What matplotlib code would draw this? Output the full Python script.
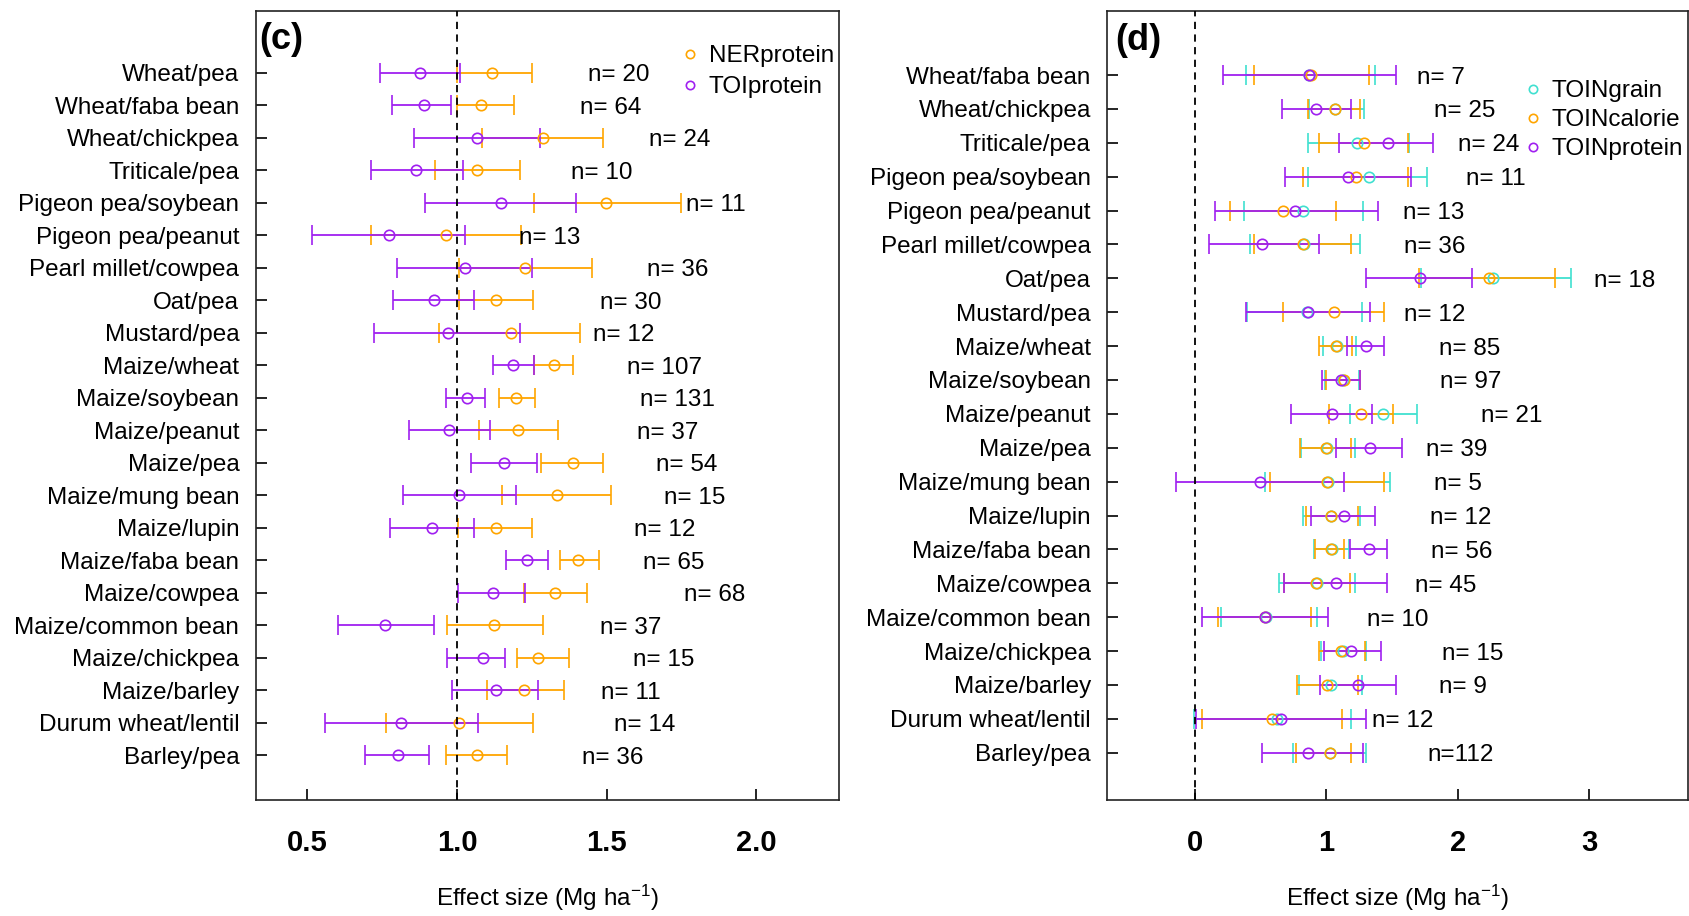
import matplotlib
matplotlib.use("Agg")
import matplotlib.pyplot as plt
from matplotlib.lines import Line2D
import numpy as np

plt.rcParams['font.family'] = ['Liberation Sans', 'DejaVu Sans']
plt.rcParams['mathtext.fontset'] = 'custom'
plt.rcParams['mathtext.rm'] = 'Liberation Sans'
plt.rcParams['mathtext.it'] = 'Liberation Sans:italic'
plt.rcParams['mathtext.bf'] = 'Liberation Sans:bold'

# ---------------- panel (c): protein-based indices ----------------
crops_c = ["Wheat/pea", "Wheat/faba bean", "Wheat/chickpea", "Triticale/pea",
           "Pigeon pea/soybean", "Pigeon pea/peanut", "Pearl millet/cowpea",
           "Oat/pea", "Mustard/pea", "Maize/wheat", "Maize/soybean",
           "Maize/peanut", "Maize/pea", "Maize/mung bean", "Maize/lupin",
           "Maize/faba bean", "Maize/cowpea", "Maize/common bean",
           "Maize/chickpea", "Maize/barley", "Durum wheat/lentil", "Barley/pea"]
n_c = [20, 64, 24, 10, 11, 13, 36, 30, 12, 107, 131, 37, 54, 15, 12, 65, 68,
       37, 15, 11, 14, 36]

ner_lo = [1.000, 1.000, 1.083, 0.928, 1.256, 0.714, 1.006, 1.008, 0.939, 1.259,
          1.141, 1.073, 1.282, 1.151, 1.004, 1.343, 1.225, 0.967, 1.202, 1.099,
          0.761, 0.963]
ner_mean = [1.118, 1.081, 1.288, 1.068, 1.499, 0.964, 1.228, 1.131, 1.179, 1.324,
            1.198, 1.205, 1.388, 1.333, 1.131, 1.405, 1.328, 1.125, 1.270, 1.223,
            1.006, 1.068]
ner_hi = [1.251, 1.192, 1.487, 1.209, 1.749, 1.214, 1.452, 1.255, 1.410, 1.387,
          1.260, 1.337, 1.489, 1.515, 1.251, 1.474, 1.433, 1.287, 1.374, 1.356,
          1.255, 1.166]

toi_lo = [0.741, 0.782, 0.855, 0.714, 0.892, 0.516, 0.799, 0.786, 0.723, 1.119,
          0.964, 0.839, 1.047, 0.819, 0.776, 1.165, 1.004, 0.601, 0.967, 0.983,
          0.557, 0.693]
toi_mean = [0.876, 0.891, 1.067, 0.863, 1.146, 0.772, 1.027, 0.923, 0.969, 1.187,
            1.032, 0.974, 1.156, 1.006, 0.917, 1.234, 1.119, 0.759, 1.088, 1.131,
            0.814, 0.803]
toi_hi = [1.010, 0.980, 1.278, 1.020, 1.397, 1.026, 1.250, 1.058, 1.211, 1.256,
          1.095, 1.110, 1.269, 1.198, 1.058, 1.303, 1.228, 0.923, 1.161, 1.271,
          1.069, 0.905]

# x position of the sample-size annotation in each row
nlab_x_c = [1.540, 1.515, 1.743, 1.484, 1.864, 1.310, 1.739, 1.581, 1.557, 1.693,
            1.738, 1.704, 1.768, 1.795, 1.693, 1.723, 1.862, 1.581, 1.691, 1.580,
            1.629, 1.522]
ticks_c = [0.5, 1.0, 1.5, 2.0]
tick_labels_c = ["0.5", "1.0", "1.5", "2.0"]

# ---------------- panel (d): TOIN indices ----------------
crops_d = ["Wheat/faba bean", "Wheat/chickpea", "Triticale/pea",
           "Pigeon pea/soybean", "Pigeon pea/peanut", "Pearl millet/cowpea",
           "Oat/pea", "Mustard/pea", "Maize/wheat", "Maize/soybean",
           "Maize/peanut", "Maize/pea", "Maize/mung bean", "Maize/lupin",
           "Maize/faba bean", "Maize/cowpea", "Maize/common bean",
           "Maize/chickpea", "Maize/barley", "Durum wheat/lentil", "Barley/pea"]
n_d = [7, 25, 24, 11, 13, 36, 18, 12, 85, 97, 21, 39, 5, 12, 56, 45, 10, 15, 9,
       12, 112]

grain_lo = [0.389, 0.867, 0.862, 0.859, 0.378, 0.424, 1.718, 0.401, 0.979, 0.988,
            1.180, 0.810, 0.538, 0.825, 0.910, 0.644, 0.198, 0.962, 0.790, -0.006,
            0.744]
grain_mean = [0.867, 1.068, 1.234, 1.323, 0.824, 0.830, 2.270, 0.853, 1.082, 1.125,
              1.434, 1.008, 1.011, 1.039, 1.045, 0.933, 0.544, 1.125, 1.034, 0.624,
              1.031]
grain_hi = [1.374, 1.288, 1.630, 1.769, 1.277, 1.260, 2.866, 1.274, 1.225, 1.248,
            1.692, 1.217, 1.489, 1.254, 1.171, 1.220, 0.933, 1.305, 1.271, 1.191,
            1.305]

cal_lo = [0.447, 0.859, 0.945, 0.825, 0.269, 0.452, 1.706, 0.673, 0.945, 0.996,
          1.025, 0.802, 0.575, 0.847, 0.916, 0.676, 0.175, 0.945, 0.779, 0.052,
          0.767]
cal_mean = [0.882, 1.068, 1.291, 1.225, 0.673, 0.824, 2.236, 1.062, 1.071, 1.139,
            1.263, 1.002, 1.005, 1.034, 1.034, 0.925, 0.532, 1.114, 1.008, 0.590,
            1.031]
cal_hi = [1.328, 1.260, 1.620, 1.626, 1.076, 1.191, 2.743, 1.443, 1.197, 1.254,
          1.506, 1.188, 1.440, 1.242, 1.139, 1.180, 0.887, 1.294, 1.242, 1.119,
          1.191]

prot_lo = [0.212, 0.661, 1.099, 0.687, 0.152, 0.109, 1.303, 0.389, 1.159, 0.968,
           0.733, 1.074, -0.140, 0.887, 1.180, 0.681, 0.057, 0.982, 0.956, 0.006,
           0.515]
prot_mean = [0.867, 0.919, 1.469, 1.168, 0.764, 0.515, 1.712, 0.862, 1.300, 1.111,
             1.042, 1.334, 0.498, 1.134, 1.323, 1.076, 0.538, 1.191, 1.242, 0.653,
             0.859]
prot_hi = [1.529, 1.191, 1.815, 1.643, 1.391, 0.945, 2.113, 1.334, 1.443, 1.254,
           1.346, 1.580, 1.139, 1.374, 1.466, 1.466, 1.016, 1.417, 1.529, 1.300,
           1.277]

nlab_x_d = [1.872, 2.053, 2.233, 2.293, 1.815, 1.824, 3.272, 1.829, 2.090, 2.101,
            2.413, 1.995, 2.001, 2.021, 2.030, 1.912, 1.546, 2.113, 2.038, 1.583,
            2.021]
ticks_d = [0, 1, 2, 3]
tick_labels_d = ["0", "1", "2", "3"]

ORANGE = "#FFA500"
PURPLE = "#A020F0"
TURQ = "#40E0D0"
FS = 17.5

fig = plt.figure(figsize=(16.9, 9.16), dpi=100)
W, H = 1690.0, 916.0
ax_c = fig.add_axes([256 / W, 116 / H, 583 / W, 789 / H])
ax_d = fig.add_axes([1107.5 / W, 116 / H, 580.5 / W, 789 / H])


def draw_series(ax, ypos, lo, mean, hi, color):
    lo, mean, hi = np.asarray(lo), np.asarray(mean), np.asarray(hi)
    ax.errorbar(mean, ypos, xerr=[mean - lo, hi - mean], fmt='o', color=color,
                mfc='none', mec=color, ms=7.5, mew=1.2, elinewidth=1.3,
                capsize=7, capthick=1.3, zorder=2)


def style_axes(ax, crops, ticks, tick_labels, xlim, ylim, ref):
    ypos = np.arange(len(crops), 0, -1)
    ax.set_yticks(ypos)
    ax.set_yticklabels(crops, fontsize=FS)
    ax.set_xticks(ticks)
    ax.set_xticklabels(tick_labels, fontsize=21, fontweight='bold')
    ax.set_xlim(*xlim)
    ax.set_ylim(*ylim)
    ax.tick_params(axis='y', direction='in', length=8, width=1.2, pad=12)
    ax.tick_params(axis='x', direction='in', length=8, width=1.2, pad=21)
    for sp in ax.spines.values():
        sp.set_linewidth(1.2)
        sp.set_color('#222222')
    ax.axvline(ref, color='black', lw=1.3, ls=(0, (4, 3)), zorder=3)
    ax.set_xlabel('Effect size (Mg ha$^{-1}$)', fontsize=FS)
    ax.xaxis.set_label_coords(0.5, -0.124)
    ax.xaxis.label.set_va('center')
    return ypos


# panel (c)
yc = style_axes(ax_c, crops_c, ticks_c, tick_labels_c, (0.328, 2.277),
                (-0.385, 23.909), 1.0)
draw_series(ax_c, yc, ner_lo, ner_mean, ner_hi, ORANGE)
draw_series(ax_c, yc, toi_lo, toi_mean, toi_hi, PURPLE)
for x, y, n in zip(nlab_x_c, yc, n_c):
    ax_c.text(x, y, f"n= {n}", ha='center', va='center_baseline', fontsize=FS)
ax_c.text(0.006, 0.9645, "(c)", transform=ax_c.transAxes, fontsize=26,
          fontweight='bold', ha='left', va='center')
handles_c = [Line2D([], [], marker='o', ls='none', mfc='none', mec=c, ms=6, mew=1.2)
             for c in (ORANGE, PURPLE)]
ax_c.legend(handles_c, ["NERprotein", "TOIprotein"], loc='upper left',
            bbox_to_anchor=(680 / W, 1 - 45 / H), bbox_transform=fig.transFigure,
            frameon=False, fontsize=FS, borderpad=0, borderaxespad=0,
            handlelength=0.8, handletextpad=0.38, labelspacing=0.37)

# panel (d)
yd = style_axes(ax_d, crops_d, ticks_d, tick_labels_d, (-0.664, 3.753),
                (-0.396, 22.889), 0.0)
draw_series(ax_d, yd, grain_lo, grain_mean, grain_hi, TURQ)
draw_series(ax_d, yd, cal_lo, cal_mean, cal_hi, ORANGE)
draw_series(ax_d, yd, prot_lo, prot_mean, prot_hi, PURPLE)
for x, y, n in zip(nlab_x_d, yd, n_d):
    lab = f"n= {n}" if n < 100 else f"n={n}"
    ax_d.text(x, y, lab, ha='center', va='center_baseline', fontsize=FS)
ax_d.text(0.013, 0.963, "(d)", transform=ax_d.transAxes, fontsize=26,
          fontweight='bold', ha='left', va='center')
handles_d = [Line2D([], [], marker='o', ls='none', mfc='none', mec=c, ms=6, mew=1.2)
             for c in (TURQ, ORANGE, PURPLE)]
ax_d.legend(handles_d, ["TOINgrain", "TOINcalorie", "TOINprotein"], loc='upper left',
            bbox_to_anchor=(1523 / W, 1 - 80 / H), bbox_transform=fig.transFigure,
            frameon=False, fontsize=FS, borderpad=0, borderaxespad=0,
            handlelength=0.8, handletextpad=0.38, labelspacing=0.29)

fig.savefig("out.png", dpi=100)
